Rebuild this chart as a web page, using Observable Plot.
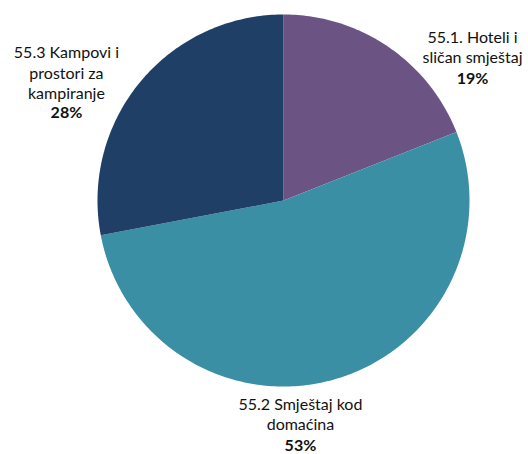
<!DOCTYPE html>
<html>
<head>
<meta charset="utf-8">
<script src="https://cdn.jsdelivr.net/npm/d3@7"></script>
<script src="https://cdn.jsdelivr.net/npm/@observablehq/plot@0.6"></script>
<style>
  html, body { margin: 0; padding: 0; background: #fff; }
  #chart { width: 528px; height: 454px; }
</style>
</head>
<body>
<div id="chart"></div>
<script>
// Data
const categories = ["55.1. Hoteli i\nsličan smještaj", "55.2 Smještaj kod\ndomaćina", "55.3 Kampovi i\nprostori za\nkampiranje"];
const shares = [19, 53, 28];
const percentLabels = ["19%", "53%", "28%"];
const colors = ["#6b5484", "#3b8fa4", "#1f3f66"];

// Layout (pie units; radius = 1, centre = 0,0)
const labelNamePos = [[1.016, 0.828], [0.091, -1.145], [-1.167, 0.691]];
const labelPctPos  = [[1.016, 0.656], [0.091, -1.317], [-1.167, 0.473]];

const arcs = d3.pie().sort(null).value(d => d)(shares);
const polys = [];
arcs.forEach((a, i) => {
  polys.push({k: i, x: 0, y: 0});
  const n = Math.max(2, Math.ceil((a.endAngle - a.startAngle) / (2 * Math.PI) * 400));
  for (let j = 0; j <= n; j++) {
    const t = a.startAngle + (a.endAngle - a.startAngle) * j / n;
    polys.push({k: i, x: Math.sin(t), y: Math.cos(t)});
  }
});

const labels = categories.map((c, i) => ({
  name: c, pct: percentLabels[i],
  nx: labelNamePos[i][0], ny: labelNamePos[i][1],
  px: labelPctPos[i][0], py: labelPctPos[i][1]
}));

const R = 186, CX = 283, CY = 200, W = 528, H = 454;
const chart = Plot.plot({
  width: W, height: H,
  margin: 0,
  style: {fontFamily: "Lato, sans-serif", background: "#fff"},
  x: {domain: [-CX / R, (W - CX) / R], range: [0, W], axis: null},
  y: {domain: [-(H - CY) / R, CY / R], range: [H, 0], axis: null},
  color: {domain: [0, 1, 2], range: colors, type: "ordinal"},
  marks: [
    Plot.line(polys, {x: "x", y: "y", z: "k", fill: "k", stroke: "none", curve: "linear-closed"}),
    Plot.text(labels, {x: "nx", y: "ny", text: "name", fontSize: 16, lineHeight: 1.28, fill: "#111", textAnchor: "middle", lineAnchor: "middle"}),
    Plot.text(labels, {x: "px", y: "py", text: "pct", fontSize: 16, fontWeight: "bold", fill: "#111", textAnchor: "middle", lineAnchor: "middle"})
  ]
});
document.getElementById("chart").appendChild(chart);
</script>
</body>
</html>
